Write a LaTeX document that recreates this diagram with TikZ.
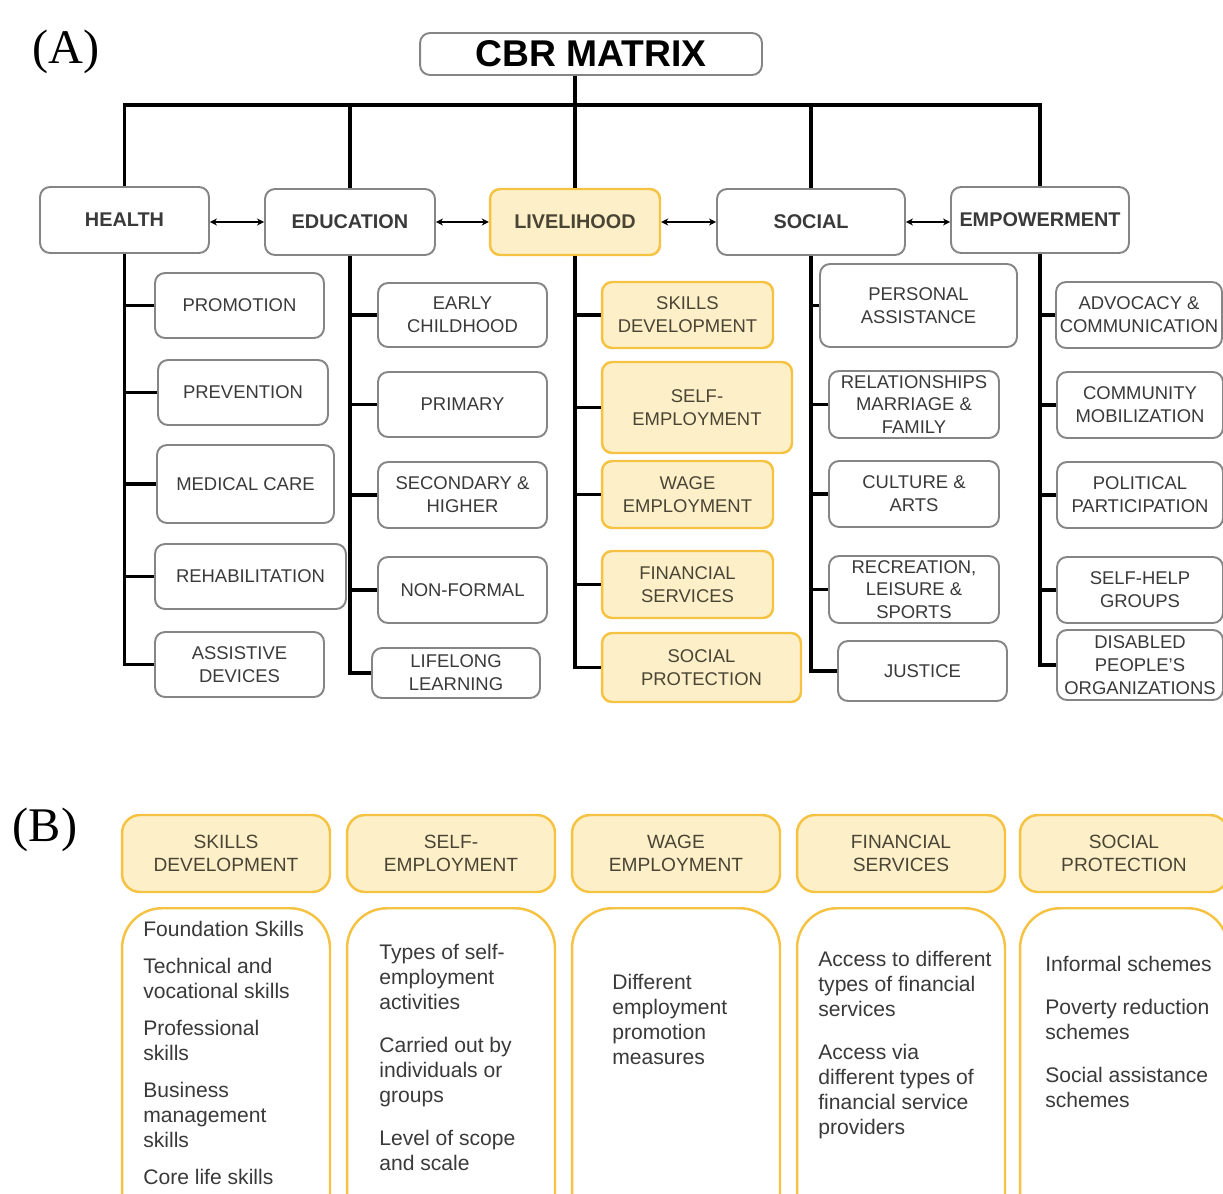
\documentclass[tikz,border=0pt]{standalone}
\usepackage{fontspec}
\setmainfont{Liberation Sans}
\newfontfamily\labelfont{Liberation Serif}
\usetikzlibrary{arrows.meta}
\definecolor{boxgray}{HTML}{858585}
\definecolor{txtgray}{HTML}{3A3A3A}
\definecolor{goldline}{HTML}{F5C242}
\definecolor{cream}{HTML}{FDF0C9}
\definecolor{olive}{HTML}{4A4434}
\begin{document}
\begin{tikzpicture}[x=0.02cm,y=-0.02cm,
  main/.style={draw=boxgray,line width=1.1pt,rounded corners=0.2cm,fill=white,inner sep=0pt,
    font=\bfseries\fontsize{11.3}{13}\selectfont,text=txtgray,minimum height=1.32cm},
  sub/.style={draw=boxgray,line width=1.1pt,rounded corners=0.2cm,fill=white,inner sep=0pt,
    align=center,font=\fontsize{10.5}{13}\selectfont,text=txtgray,minimum height=1.3cm},
  live/.style={draw=goldline,line width=1.4pt,fill=cream,text=olive},
  spine/.style={line width=2pt,black},
  link/.style={line width=0.8pt,{Stealth[length=4pt,width=4pt]}-{Stealth[length=4pt,width=4pt]}},
  head/.style={draw=goldline,line width=1.4pt,fill=cream,rounded corners=0.36cm,inner sep=0pt,
    minimum width=4.16cm,minimum height=1.54cm,align=center,font=\fontsize{10.9}{13}\selectfont,text=olive},
  body/.style={draw=goldline,line width=1.4pt,fill=white,rounded corners=0.8cm,
    minimum width=4.16cm,minimum height=7cm,anchor=north},
  items/.style={anchor=north west,align=left,inner sep=0pt,font=\fontsize{12}{14.2}\selectfont,text=txtgray}]
  \useasboundingbox (0,0) rectangle (1223,1193);
  \clip (0,0) rectangle (1223,1193);

  % (A) the matrix
  \node[font=\labelfont\fontsize{27.5}{30}\selectfont] (labA) at (66,52) {(A)};
  \node[draw=boxgray,line width=1.1pt,rounded corners=0.2cm,minimum width=6.84cm,minimum height=0.84cm,
    inner sep=0pt,font=\bfseries\fontsize{21.2}{24}\selectfont] (cbr) at (591,54) {CBR MATRIX};

  \node[main,minimum width=3.38cm] (health) at (124.5,220) {HEALTH};
  \node[main,minimum width=3.4cm] (education) at (350,222) {EDUCATION};
  \node[main,live,minimum width=3.4cm] (livelihood) at (575,222) {LIVELIHOOD};
  \node[main,minimum width=3.76cm] (social) at (811,222) {SOCIAL};
  \node[main,minimum width=3.56cm] (empowerment) at (1040,220) {EMPOWERMENT};

  \node[sub,minimum width=3.38cm] (promotion) at (239.5,305.5) {PROMOTION};
  \node[sub,minimum width=3.4cm] (prevention) at (243,392.5) {PREVENTION};
  \node[sub,minimum width=3.54cm,minimum height=1.56cm] (medical) at (245.5,484) {MEDICAL CARE};
  \node[sub,minimum width=3.82cm] (rehab) at (250.5,576.5) {REHABILITATION};
  \node[sub,minimum width=3.38cm] (assistive) at (239.5,664.5) {ASSISTIVE\\DEVICES};

  \node[sub,minimum width=3.38cm,minimum height=1.28cm] (early) at (462.5,315) {EARLY\\CHILDHOOD};
  \node[sub,minimum width=3.38cm] (primary) at (462.5,404.5) {PRIMARY};
  \node[sub,minimum width=3.38cm,minimum height=1.32cm] (secondary) at (462.5,495) {SECONDARY \&\\HIGHER};
  \node[sub,minimum width=3.38cm,minimum height=1.32cm] (nonformal) at (462.5,590) {NON-FORMAL};
  \node[sub,minimum width=3.36cm,minimum height=1cm] (lifelong) at (456,673) {LIFELONG\\LEARNING};

  \node[sub,live,minimum width=3.42cm,minimum height=1.32cm] (skills) at (687.5,315) {SKILLS\\DEVELOPMENT};
  \node[sub,live,minimum width=3.8cm,minimum height=1.82cm] (selfemp) at (697,407.5) {SELF-\\EMPLOYMENT};
  \node[sub,live,minimum width=3.42cm,minimum height=1.34cm] (wage) at (687.5,494.5) {WAGE\\EMPLOYMENT};
  \node[sub,live,minimum width=3.42cm,minimum height=1.34cm] (financial) at (687.5,584.5) {FINANCIAL\\SERVICES};
  \node[sub,live,minimum width=3.98cm,minimum height=1.38cm] (socprot) at (701.5,667.5) {SOCIAL\\PROTECTION};

  \node[sub,minimum width=3.94cm,minimum height=1.66cm] (personal) at (918.5,305.5) {PERSONAL\\ASSISTANCE};
  \node[sub,minimum width=3.4cm,minimum height=1.34cm] (relations) at (914,404.5) {RELATIONSHIPS\\MARRIAGE \&\\FAMILY};
  \node[sub,minimum width=3.4cm,minimum height=1.32cm] (culture) at (914,494) {CULTURE \&\\ARTS};
  \node[sub,minimum width=3.4cm,minimum height=1.34cm] (recreation) at (914,589.5) {RECREATION,\\LEISURE \&\\SPORTS};
  \node[sub,minimum width=3.38cm,minimum height=1.2cm] (justice) at (922.5,671) {JUSTICE};

  \node[sub,minimum width=3.32cm,minimum height=1.32cm] (advocacy) at (1139,315) {ADVOCACY \&\\COMMUNICATION};
  \node[sub,minimum width=3.32cm,minimum height=1.32cm] (community) at (1140,405) {COMMUNITY\\MOBILIZATION};
  \node[sub,minimum width=3.32cm,minimum height=1.32cm] (political) at (1140,495) {POLITICAL\\PARTICIPATION};
  \node[sub,minimum width=3.32cm,minimum height=1.32cm] (selfhelp) at (1140,590) {SELF-HELP\\GROUPS};
  \node[sub,minimum width=3.32cm,minimum height=1.4cm] (dpo) at (1140,665) {DISABLED\\PEOPLE'S\\ORGANIZATIONS};

  % tree lines
  \coordinate (bar) at (575,105);
  \draw[spine] (cbr.south -| livelihood.north) -- (livelihood.north);
  \draw[spine] (health.north) |- (bar) -| (empowerment.north);
  \draw[spine] (education.north |- bar) -- (education.north);
  \draw[spine] (social.north |- bar) -- (social.north);

  \draw[spine] (health.south) |- (assistive.west);
  \draw[spine] (health.south |- promotion.west) -- (promotion.west);
  \draw[spine] (health.south |- prevention.west) -- (prevention.west);
  \draw[spine] (health.south |- medical.west) -- (medical.west);
  \draw[spine] (health.south |- rehab.west) -- (rehab.west);

  \draw[spine] (education.south) |- (lifelong.west);
  \draw[spine] (education.south |- early.west) -- (early.west);
  \draw[spine] (education.south |- primary.west) -- (primary.west);
  \draw[spine] (education.south |- secondary.west) -- (secondary.west);
  \draw[spine] (education.south |- nonformal.west) -- (nonformal.west);

  \draw[spine] (livelihood.south) |- (socprot.west);
  \draw[spine] (livelihood.south |- skills.west) -- (skills.west);
  \draw[spine] (livelihood.south |- selfemp.west) -- (selfemp.west);
  \draw[spine] (livelihood.south |- wage.west) -- (wage.west);
  \draw[spine] (livelihood.south |- financial.west) -- (financial.west);

  \draw[spine] (social.south) |- (justice.west);
  \draw[spine] (social.south |- personal.west) -- (personal.west);
  \draw[spine] (social.south |- relations.west) -- (relations.west);
  \draw[spine] (social.south |- culture.west) -- (culture.west);
  \draw[spine] (social.south |- recreation.west) -- (recreation.west);

  \draw[spine] (empowerment.south) |- (dpo.west);
  \draw[spine] (empowerment.south |- advocacy.west) -- (advocacy.west);
  \draw[spine] (empowerment.south |- community.west) -- (community.west);
  \draw[spine] (empowerment.south |- political.west) -- (political.west);
  \draw[spine] (empowerment.south |- selfhelp.west) -- (selfhelp.west);

  \draw[link] (education.west -| health.east) -- (education.west);
  \draw[link] (education.east) -- (livelihood.west);
  \draw[link] (livelihood.east) -- (social.west);
  \draw[link] (social.east) -- (social.east -| empowerment.west);

  % (B) livelihood components
  \node[font=\labelfont\fontsize{27.5}{30}\selectfont] (labB) at (45,830) {(B)};
  \node[head] (hskills) at (226,853.5) {SKILLS\\DEVELOPMENT};
  \node[head] (hself) at (451,853.5) {SELF-\\EMPLOYMENT};
  \node[head] (hwage) at (676,853.5) {WAGE\\EMPLOYMENT};
  \node[head] (hfin) at (901,853.5) {FINANCIAL\\SERVICES};
  \node[head] (hsoc) at (1124,853.5) {SOCIAL\\PROTECTION};

  \node[body] (bskills) at (226,907) {};
  \node[body] (bself) at (451,907) {};
  \node[body] (bwage) at (676,907) {};
  \node[body] (bfin) at (901,907) {};
  \node[body] (bsoc) at (1124,907) {};

  \node[items] (tskills) at (143,921) {Foundation Skills\\[0.24cm]Technical and\\vocational skills\\[0.24cm]Professional\\skills\\[0.24cm]Business\\management\\skills\\[0.24cm]Core life skills};
  \node[items] (tself) at (379,944) {Types of self-\\employment\\activities\\[0.36cm]Carried out by\\individuals or\\groups\\[0.36cm]Level of scope\\and scale};
  \node[items] (twage) at (612,974) {Different\\employment\\promotion\\measures};
  \node[items] (tfin) at (818,951) {Access to different\\types of financial\\services\\[0.36cm]Access via\\different types of\\financial service\\providers};
  \node[items] (tsoc) at (1045,956) {Informal schemes\\[0.36cm]Poverty reduction\\schemes\\[0.36cm]Social assistance\\schemes};
\end{tikzpicture}
\end{document}
